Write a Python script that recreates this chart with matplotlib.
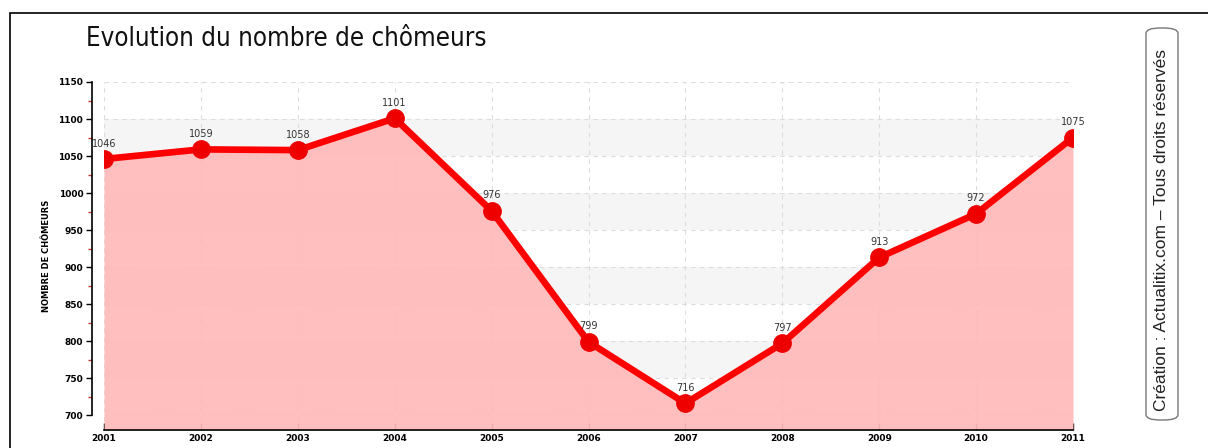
import matplotlib
matplotlib.use("Agg")
import matplotlib.pyplot as plt
from matplotlib.patches import FancyBboxPatch, Rectangle
from matplotlib.ticker import MultipleLocator

years = [2001, 2002, 2003, 2004, 2005, 2006, 2007, 2008, 2009, 2010, 2011]
chomeurs = [1046, 1059, 1058, 1101, 976, 799, 716, 797, 913, 972, 1075]
labels = ["1046", "1059", "1058", "1101", "976", "799", "716", "797", "913", "972", "1075"]
yticks = [700, 750, 800, 850, 900, 950, 1000, 1050, 1100, 1150]
bands = [(750, 800), (850, 900), (950, 1000), (1050, 1100)]

W, H = 1208, 448
fig = plt.figure(figsize=(W / 100, H / 100), dpi=100)
fig.patch.set_facecolor("white")

# outer frame
fig.add_artist(Rectangle((10 / W, -0.1), 1.2, (H - 13) / H + 0.1, transform=fig.transFigure,
                         fill=False, edgecolor="black", linewidth=1.2))

ax = fig.add_axes([104 / W, 1 - 430 / H, (1073 - 104) / W, (430 - 82) / H])
ax.set_xlim(2001, 2011)
ax.set_ylim(680, 1150)

for lo, hi in bands:
    ax.axhspan(lo, hi, color="#f5f5f5", zorder=0, linewidth=0)

ax.set_xticks(years)
ax.set_yticks(yticks)
ax.yaxis.set_minor_locator(MultipleLocator(25))
ax.grid(True, which="major", linestyle=(0, (4, 4)), color="#dddddd", linewidth=0.8, zorder=1)
ax.set_axisbelow(True)

ax.fill_between(years, chomeurs, 680, color="#ffbaba", alpha=0.93, linewidth=0, zorder=2)
ax.plot(years, chomeurs, color="#ff0000", linewidth=4.8, marker="o", markersize=12.5,
        markerfacecolor="#ee0000", markeredgecolor="#ee0000", zorder=3, solid_capstyle="round")

for x, y, t in zip(years, chomeurs, labels):
    ax.annotate(t, (x, y), xytext=(0, 7.5), textcoords="offset points", ha="center",
                va="bottom", fontsize=7, color="#333333", zorder=4)

for s in ["top", "right"]:
    ax.spines[s].set_visible(False)
ax.spines["left"].set_position(("outward", 9))
ax.spines["left"].set_bounds(700, 1150)
ax.spines["bottom"].set_bounds(2001, 2011)
ax.spines["left"].set_linewidth(1.2)
ax.spines["bottom"].set_linewidth(1.2)

ax.tick_params(axis="both", which="major", labelsize=6.5, length=4, width=1, colors="black",
               pad=2)
ax.tick_params(axis="y", which="minor", length=3, width=1, color="#cc3333")
ax.tick_params(axis="x", which="major", direction="in", length=5, pad=3)
for lab in ax.get_xticklabels() + ax.get_yticklabels():
    lab.set_fontweight("bold")

ax.set_ylabel("NOMBRE DE CHÔMEURS", fontsize=6, fontweight="bold", labelpad=5)

fig.text(86 / W, 1 - 46 / H, "Evolution du nombre de chômeurs", fontsize=18.5,
         fontstretch="condensed", family="DejaVu Sans", va="baseline", ha="left",
         color="#111111")

box = FancyBboxPatch((1146 / W, 1 - 420 / H), 32 / W, 392 / H, transform=fig.transFigure,
                     boxstyle="round,pad=0,rounding_size=0.012", fill=False,
                     edgecolor="#777777", linewidth=1.0)
fig.add_artist(box)
fig.text(1162 / W, 1 - 230 / H, "Création : Actualitix.com – Tous droits réservés",
         rotation=90, fontsize=12.5, family="Liberation Sans", ha="center", va="center",
         color="#222222")

fig.savefig("out.png", dpi=100, facecolor="white")
